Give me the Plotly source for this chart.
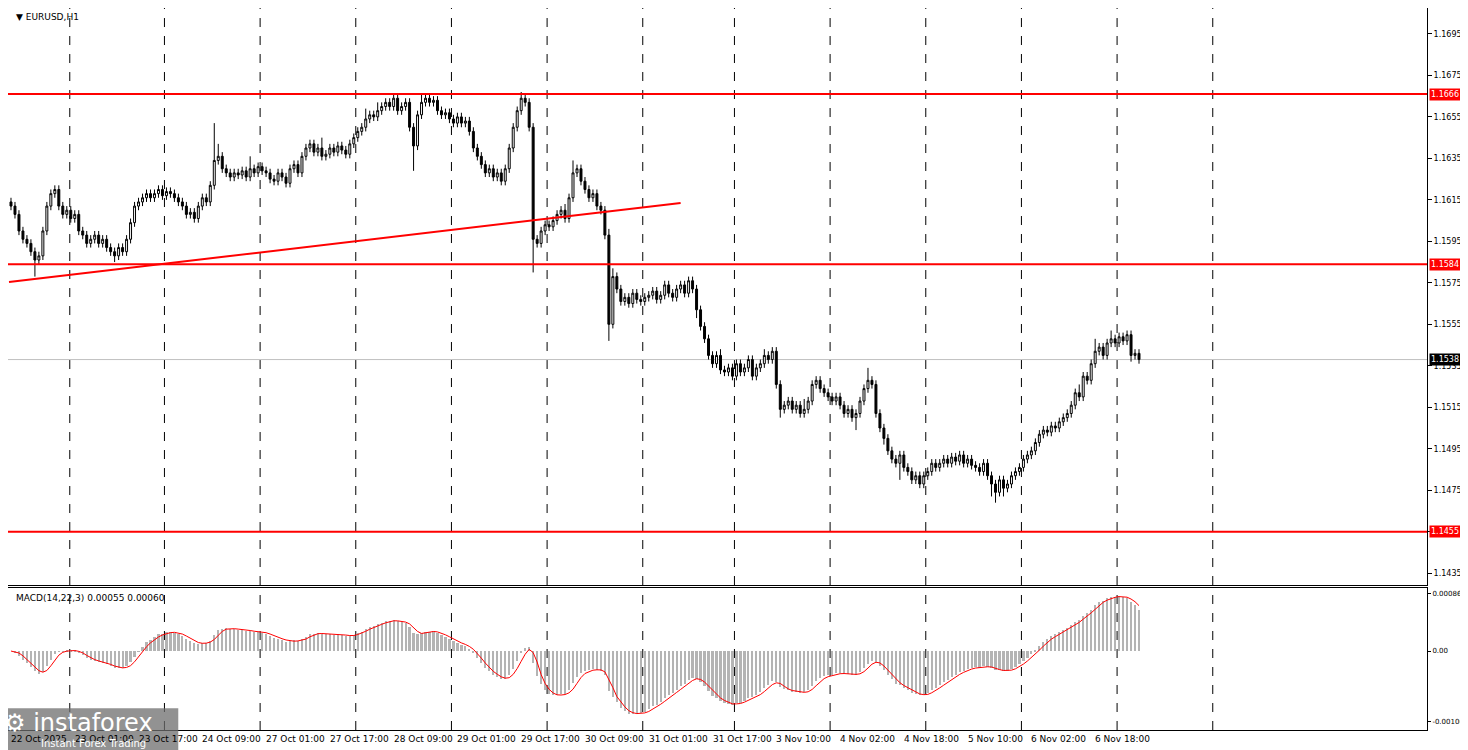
import plotly.graph_objects as go
import pandas as pd

# closes in pips above 1.1000 (1.1612 -> 612), one per H1 bar
closes = [
    612, 608, 600, 596, 594, 590, 586, 588,
    600, 612, 618, 620,
    612, 608, 610, 606, 608,
    600, 598, 594, 596, 598, 594, 596, 592,
    590, 588, 592, 590, 596,
    604, 612, 614, 616,
    618, 616, 618, 620, 617, 619, 618, 616, 614, 612,
    608, 609, 606, 612, 616, 614,
    622, 634, 636, 630, 628,
    626, 628, 627, 629, 626, 630, 628, 631, 629, 628,
    625, 624, 628, 626, 623, 630, 632, 628,
    636, 640, 642, 638, 640,
    636, 637, 640, 638, 641, 639, 637, 642,
    645, 648, 650, 654, 656, 655, 658,
    660, 662, 660, 664, 658, 660, 662,
    650, 641, 656,
    662, 664, 662, 663, 658,
    656, 657, 654, 652, 655, 652, 653,
    648, 640, 636, 632, 628, 630, 626, 628,
    624, 630,
    640, 650, 658, 664, 662,
    650, 596, 594,
    600, 603, 602, 605,
    608, 610, 606,
    616, 628, 630, 624,
    620, 616, 618, 612, 610,
    598, 555,
    578, 572, 566,
    568, 565, 570, 567, 566, 568, 569, 571, 567, 569, 574, 570, 568, 572, 574, 570, 576, 572,
    562, 554, 548,
    540, 536, 540, 533,
    532, 534, 530, 536, 532, 534, 538, 530, 534, 536, 540, 538, 542,
    526, 514, 516,
    518, 514, 516, 512, 514,
    518, 526, 528, 524,
    522, 520, 518, 520,
    516, 512, 514, 510, 512,
    518, 524, 528, 526,
    512, 505, 500,
    494, 490, 488, 492, 486,
    484, 480, 482, 478, 482,
    484, 488, 486, 488,
    490, 488, 491, 489, 492, 488, 490, 487,
    486, 484, 488, 482,
    478, 474, 480, 476,
    478, 482, 484, 486,
    490, 492, 494, 498,
    502, 504, 503, 506, 505,
    508, 510, 512,
    516, 522, 520,
    530, 528, 536,
    542, 544, 540,
    546, 548, 546, 549, 547,
    550, 540, 541, 538,
]
first_open = 614
# wick sizes in pips where the wick is notably long; other bars get 2
upper_wicks = {51: 18, 52: 6, 60: 6, 78: 5, 89: 5, 92: 4, 101: 2, 103: 4, 128: 3, 139: 3, 141: 6,
               150: 3, 151: 4, 178: 3, 189: 3, 199: 5, 215: 6, 268: 4, 272: 6, 276: 4}
lower_wicks = {6: 8, 26: 3, 101: 12, 131: 16, 150: 8, 172: 4, 193: 4, 212: 6, 219: 3, 223: 8,
               246: 6, 247: 5, 249: 4, 281: 3}

bar_labels = ["22 Oct 2025", "23 Oct 01:00", "23 Oct 17:00", "24 Oct 09:00", "27 Oct 01:00",
              "27 Oct 17:00", "28 Oct 09:00", "29 Oct 01:00", "29 Oct 17:00", "30 Oct 09:00",
              "31 Oct 01:00", "31 Oct 17:00", "3 Nov 10:00", "4 Nov 02:00", "4 Nov 18:00",
              "5 Nov 10:00", "6 Nov 02:00", "6 Nov 18:00"]
grid_bars = [14.75, 38.5, 62.5, 86.5, 110.5, 134.5, 158.5, 181.5, 205.5, 229.5, 253.5, 277.5, 301.5]
levels = [1.1666, 1.1584, 1.1455]
price_ticks = [1.1435, 1.1455, 1.1475, 1.1495, 1.1515, 1.1535, 1.1555, 1.1575, 1.1595,
               1.1615, 1.1635, 1.1655, 1.1675, 1.1695]
trend_x = [-0.5, 168]
trend_y = [1.15754, 1.16135]
last_price = 1.1538

n = len(closes)
c = [1.1 + v / 10000 for v in closes]
o = [1.1 + first_open / 10000] + c[:-1]
h = [max(a, b) + upper_wicks.get(i, 2) / 10000 for i, (a, b) in enumerate(zip(o, c))]
l = [min(a, b) - lower_wicks.get(i, 2) / 10000 for i, (a, b) in enumerate(zip(o, c))]
x = list(range(n))

s = pd.Series(c)
macd = s.ewm(span=14, adjust=False).mean() - s.ewm(span=22, adjust=False).mean()
signal = macd.rolling(3, min_periods=1).mean()

fig = go.Figure()
fig.add_trace(go.Candlestick(
    x=x, open=o, high=h, low=l, close=c, whiskerwidth=0,
    increasing=dict(fillcolor="white", line=dict(color="black", width=1)),
    decreasing=dict(fillcolor="black", line=dict(color="black", width=1)),
    xaxis="x", yaxis="y", showlegend=False))
fig.add_trace(go.Scatter(x=trend_x, y=trend_y, mode="lines", line=dict(color="red", width=2),
                         xaxis="x", yaxis="y", showlegend=False))
fig.add_trace(go.Bar(x=x, y=macd, marker_color="#b4b4b4", marker_line_width=0, width=0.55,
                     xaxis="x2", yaxis="y2", showlegend=False))
fig.add_trace(go.Scatter(x=x, y=signal, mode="lines", line=dict(color="red", width=1),
                         xaxis="x2", yaxis="y2", showlegend=False))

shapes = []
for g in grid_bars:
    for yr, xr in (("y domain", "x"), ("y2 domain", "x2")):
        shapes.append(dict(type="line", xref=xr, yref=yr, x0=g, x1=g, y0=0, y1=1,
                           line=dict(color="black", width=1, dash="dash"), layer="below"))
for lv in levels:
    shapes.append(dict(type="line", xref="x domain", yref="y", x0=0, x1=1, y0=lv, y1=lv,
                       line=dict(color="red", width=2)))
shapes.append(dict(type="line", xref="x domain", yref="y", x0=0, x1=1, y0=last_price, y1=last_price,
                   line=dict(color="#c0c0c0", width=1), layer="below"))
shapes.append(dict(type="rect", xref="paper", yref="paper", x0=-0.01, x1=0.12, y0=-0.035, y1=0.03,
                   fillcolor="rgba(110,110,110,0.75)", line_width=0))

font = "DejaVu Sans"
ann = []
for i, t in enumerate(bar_labels):
    ann.append(dict(x=16 * i - 0.5, y=0, xref="x2", yref="paper", text=t, showarrow=False,
                    xanchor="left", yanchor="top", yshift=-2, font=dict(size=9, color="black", family=font)))
for lv in levels:
    ann.append(dict(x=1, y=lv, xref="paper", yref="y", text="%.4f" % lv, showarrow=False, xanchor="left",
                    xshift=2, bgcolor="red", font=dict(size=8, color="white", family=font), borderpad=1))
ann.append(dict(x=1, y=last_price, xref="paper", yref="y", text="%.4f" % last_price, showarrow=False,
                xanchor="left", xshift=2, bgcolor="black", font=dict(size=8, color="white", family=font), borderpad=1))
ann.append(dict(x=0.004, y=0.997, xref="paper", yref="paper", text="▼ EURUSD,H1", showarrow=False,
                xanchor="left", yanchor="top", font=dict(size=9, color="black", family=font)))
ann.append(dict(x=0.004, y=0.192, xref="paper", yref="paper", text="MACD(14,22,3) 0.00055 0.00060",
                showarrow=False, xanchor="left", yanchor="top", font=dict(size=9, color="black", family=font)))
ann.append(dict(x=-0.004, y=0.032, xref="paper", yref="paper", text="⚙ instaforex", showarrow=False,
                xanchor="left", yanchor="top", font=dict(size=24, color="white", family=font)))
ann.append(dict(x=0.022, y=-0.008, xref="paper", yref="paper", text="Instant Forex Trading", showarrow=False,
                xanchor="left", yanchor="top", font=dict(size=10, color="white", family=font)))

xr = [-0.75, 355.25]
ax = dict(range=xr, showticklabels=False, showgrid=False, zeroline=False, showline=True, mirror=True,
          linecolor="black", linewidth=1, ticks="")
fig.update_layout(
    width=1460, height=742, paper_bgcolor="white", plot_bgcolor="white",
    margin=dict(l=0, r=41, t=0, b=20, autoexpand=False), bargap=0,
    xaxis=dict(**ax, domain=[0, 1], anchor="y", rangeslider=dict(visible=False)),
    xaxis2=dict(**ax, domain=[0, 1], anchor="y2", matches="x"),
    yaxis=dict(domain=[0.2008, 1], range=[1.14293, 1.17075], side="right", tickvals=price_ticks,
               ticktext=["%.4f" % v for v in price_ticks], ticks="outside", ticklen=4, tickcolor="black",
               showgrid=False, zeroline=False, showline=True, mirror=True, linecolor="black", automargin=False,
               tickfont=dict(size=8, family=font, color="black")),
    yaxis2=dict(domain=[0, 0.1967], range=[-0.00119, 0.00095], side="right", tickvals=[0.00086, 0, -0.00106],
                ticktext=["0.00086", "0.00", "-0.00106"], ticks="outside", ticklen=3, tickcolor="black",
                showgrid=False, zeroline=False, showline=True, mirror=True, linecolor="black", automargin=False,
                tickfont=dict(size=7, family=font, color="black")),
    shapes=shapes, annotations=ann,
)
fig.write_html("out.html")
